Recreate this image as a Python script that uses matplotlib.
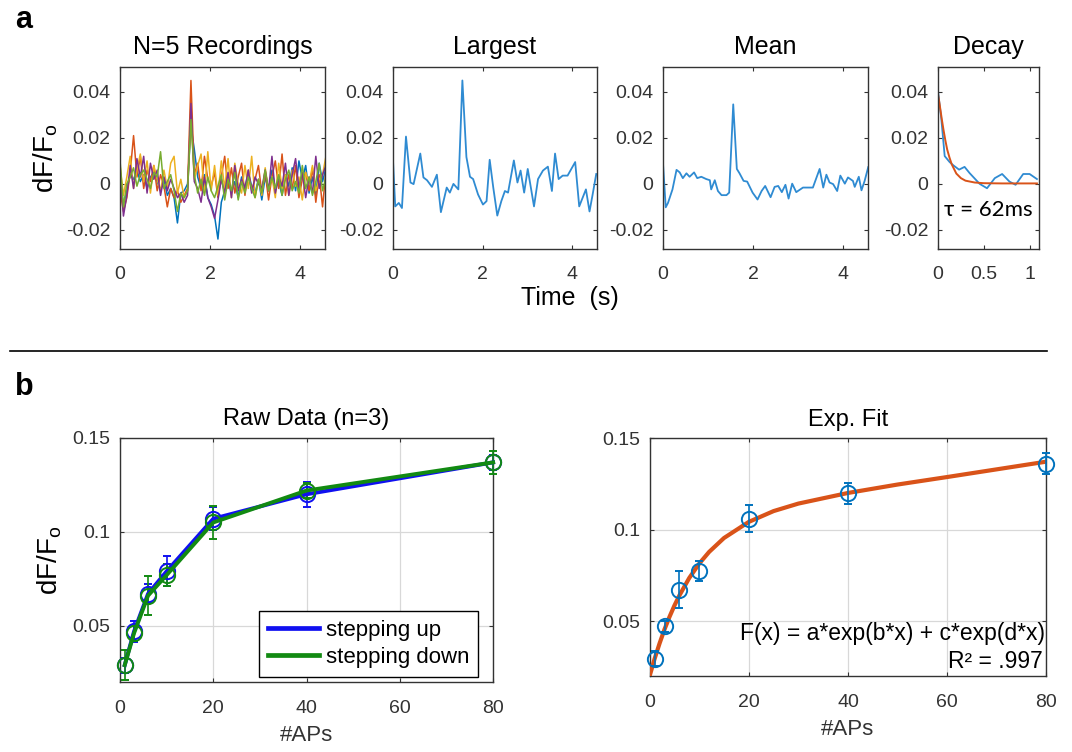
import numpy as np
import matplotlib
matplotlib.use('Agg')
import matplotlib.pyplot as plt
from matplotlib.lines import Line2D

plt.rcParams['font.family'] = ['Liberation Sans', 'DejaVu Sans']
plt.rcParams['mathtext.fontset'] = 'custom'
plt.rcParams['mathtext.rm'] = 'Liberation Sans'
plt.rcParams['mathtext.it'] = 'Liberation Sans:italic'

# ---------------- panel a : datos ----------------
# tiempos comunes de las 5 grabaciones (s)
t_rec = [0.0, 0.075, 0.15, 0.225, 0.3, 0.375, 0.45, 0.525, 0.6, 0.675, 0.75, 0.825,
         0.9, 0.975, 1.05, 1.125, 1.2, 1.275, 1.35, 1.425, 1.5, 1.575, 1.65, 1.725,
         1.8, 1.875, 1.95, 2.025, 2.1, 2.175, 2.25, 2.325, 2.4, 2.475, 2.55, 2.625,
         2.7, 2.775, 2.85, 2.925, 3.0, 3.075, 3.15, 3.225, 3.3, 3.375, 3.45, 3.525,
         3.6, 3.675, 3.75, 3.825, 3.9, 3.975, 4.05, 4.125, 4.2, 4.275, 4.35, 4.425,
         4.5, 4.575]

# dF/F de cada grabacion (x 1e-3)
rec_blue = [2, -9, -3, 4, 2, 6, 1, 4, -2, 3, 5, 1, -3, 2, -5, -2, -6, -17, -4, -3, 0, 25,
            15, 3, -2, 4, -6, -9, -14, -24, -8, -3, 2, -4, 1, -6, 3, -2, 5, -1, -4, 2, -7,
            3, -3, 6, -2, 1, -5, 4, -1, 7, -3, 10, 2, 8, -4, 3, -5, 9, 1, 7]
rec_orange = [-3, -12, -6, 5, 21, 3, 12, -2, 6, 1, 8, -3, 4, -1, -10, -2, -6, -3, -8, -5,
              -2, 45, 4, 9, -3, 12, 2, -1, 5, -6, 3, 12, -2, 7, -4, 3, 9, -5, 6, -3, 2,
              8, -4, 5, -7, 3, 10, -2, 13, -5, 4, -2, 8, -6, 2, 5, -3, 7, -8, 4, -10, 6]
rec_yellow = [8, -5, 3, 12, -2, 6, 13, 1, 10, -4, 8, 2, -3, 6, -2, 9, 12, -4, 2, -6, -3, 30,
              2, 8, 13, -4, 14, -3, 8, -5, 10, -2, 11, -6, 9, 0, -4, 8, -2, 12, -6, 2, -5,
              7, -3, 3, -6, 9, -2, 4, -5, 6, -1, 3, -7, 5, 0, 8, -3, 2, 4, 12]
rec_purple = [6, -14, -5, 8, -2, 11, 3, 12, -4, 9, 2, 6, -5, 3, -3, 2, -2, -6, -4, -8, -5,
              35, 1, -2, -8, 3, -6, -10, -15, -7, 2, -4, 5, -6, 8, -3, 2, -2, 6, -4, 3, 0,
              -2, 6, -3, 12, -4, 3, -1, 9, -5, 4, 11, -2, 5, -6, 3, -4, 12, -2, 4, 8]
rec_green = [10, -10, 0, 3, 7, -1, 4, 6, 2, -2, 5, 3, 14, -2, 1, 4, -3, -12, -4, -6, -3, 28,
             4, -4, 2, -5, 3, -3, -6, -1, 4, -7, 2, -3, 5, -7, 1, -4, 3, -2, -6, 2, -4, 6,
             -3, 3, -2, 4, -5, 2, 6, -3, 1, -4, 8, -2, 3, -5, 1, 9, -3, 3]

# traza mayor
t_largest = [0.0, 0.05, 0.13, 0.2, 0.29, 0.39, 0.46, 0.61, 0.68, 0.76, 0.87, 0.98, 1.07,
             1.2, 1.27, 1.35, 1.46, 1.55, 1.64, 1.72, 1.79, 1.9, 2.01, 2.09, 2.16, 2.24,
             2.33, 2.42, 2.5, 2.57, 2.7, 2.78, 2.85, 2.93, 3.01, 3.15, 3.24, 3.35, 3.46,
             3.55, 3.62, 3.7, 3.79, 3.9, 4.07, 4.16, 4.31, 4.39, 4.46, 4.54]
v_largest = [0.0102, -0.0098, -0.0083, -0.0105, 0.0206, 0.0006, -0.0001, 0.0132, 0.0028,
             0.0016, -0.0013, 0.004, -0.0123, -0.0016, -0.0038, 0.0, -0.0024, 0.045,
             0.0117, 0.0031, 0.0021, -0.0046, -0.009, -0.0075, 0.0105, -0.0016, -0.0138,
             -0.0075, -0.0031, -0.0038, 0.0102, 0.0006, 0.0058, -0.0038, 0.0065, -0.0098,
             0.0021, 0.0058, 0.0075, -0.0031, 0.0132, 0.0021, 0.0036, 0.0036, 0.0095,
             -0.0098, -0.0024, -0.012, -0.0046, 0.0043]

# traza media
t_mean = [0.0, 0.06, 0.11, 0.21, 0.3, 0.37, 0.44, 0.52, 0.59, 0.69, 0.76, 0.85, 0.96,
          1.04, 1.07, 1.15, 1.22, 1.3, 1.41, 1.47, 1.56, 1.64, 1.7, 1.79, 1.87, 1.99,
          2.1, 2.19, 2.27, 2.39, 2.48, 2.56, 2.64, 2.72, 2.79, 2.87, 2.96, 3.11, 3.22,
          3.33, 3.48, 3.56, 3.63, 3.7, 3.78, 3.87, 3.94, 4.04, 4.11, 4.22, 4.26, 4.35,
          4.41, 4.48, 4.56]
v_mean = [0.0087, -0.0102, -0.0083, -0.0024, 0.0061, 0.005, 0.0025, 0.0046, 0.0031,
          0.005, 0.0025, 0.0031, 0.0021, 0.0016, -0.0024, 0.0016, -0.0031, -0.0049,
          -0.0049, -0.0038, 0.0346, 0.0065, 0.0046, 0.0013, 0.001, -0.0038, -0.0068,
          -0.0031, -0.0009, -0.0058, -0.0013, -0.0009, -0.0036, -0.0004, -0.0064,
          0.0001, -0.0036, -0.0016, -0.0016, -0.0016, 0.0065, -0.0016, 0.004, 0.0006,
          -0.0001, -0.0031, 0.0036, 0.0001, 0.0028, 0.0013, -0.0013, 0.0031, -0.0028,
          0.0013, 0.0073]

# decaimiento + ajuste exponencial
t_decay = [0.0, 0.036, 0.073, 0.127, 0.17, 0.23, 0.29, 0.345, 0.455, 0.535, 0.62, 0.7,
           0.78, 0.847, 0.93, 1.0, 1.08]
v_decay = [0.0403, 0.0284, 0.0121, 0.0095, 0.008, 0.0062, 0.0074, 0.0047, 0.0, -0.0019,
           0.0025, 0.0043, 0.001, -0.0004, 0.0043, 0.0043, 0.0021]
t_decay_fit = [0.0, 0.02, 0.04, 0.06, 0.08, 0.1, 0.125, 0.15, 0.2, 0.25, 0.3, 0.4, 0.5,
               0.7, 0.9, 1.08]
v_decay_fit = [0.039, 0.034, 0.0285, 0.0235, 0.019, 0.015, 0.0115, 0.0085, 0.0045, 0.0025,
               0.0014, 0.0006, 0.0003, 0.0002, 0.0002, 0.0002]

# ---------------- panel b : datos ----------------
n_aps = [1, 3, 6, 10, 20, 40, 80]
up_mean = [0.029, 0.047, 0.067, 0.079, 0.107, 0.120, 0.137]
up_err = [0.004, 0.0055, 0.005, 0.008, 0.006, 0.0066, 0.004]
down_mean = [0.029, 0.046, 0.066, 0.077, 0.105, 0.122, 0.137]
down_err = [0.008, 0.004, 0.0105, 0.006, 0.009, 0.004, 0.006]

fit_mean = [0.0295, 0.0473, 0.0672, 0.0774, 0.1059, 0.1199, 0.136]
fit_err = [0.004, 0.003, 0.0103, 0.0054, 0.0073, 0.0057, 0.0057]
x_curve = [0, 1, 2, 3, 4, 5, 6, 8, 10, 12, 15, 20, 25, 30, 40, 50, 60, 70, 80]
y_curve = [0.020, 0.0294, 0.0378, 0.0455, 0.0523, 0.0585, 0.0640, 0.0736, 0.0814,
           0.0878, 0.0954, 0.1042, 0.1101, 0.1142, 0.1200, 0.1246, 0.1287, 0.1329,
           0.1371]

# colores estilo MATLAB
C_BLUE = '#0072BD'
C_BLUE_LIGHT = '#2f8bd2'
C_ORANGE = '#D95319'
C_YELLOW = '#EDB120'
C_PURPLE = '#7E2F8E'
C_GREEN = '#77AC30'
AX_COL = '#333333'


def estilo(ax, fs=14):
    for s in ax.spines.values():
        s.set_color(AX_COL)
        s.set_linewidth(1.0)
    ax.tick_params(direction='in', length=3, width=0.8, colors=AX_COL,
                   labelsize=fs, top=True, right=True, labeltop=False, labelright=False)
    ax.tick_params(axis='x', pad=12)
    ax.tick_params(axis='y', pad=7)


fig = plt.figure(figsize=(10.72, 7.52), dpi=100)

# --- panel a ---
pos_a = [(0.112, 0.669, 0.191, 0.242), (0.3666, 0.669, 0.190, 0.242),
         (0.6185, 0.669, 0.191, 0.242), (0.875, 0.669, 0.094, 0.242)]
axs_a = [fig.add_axes(p) for p in pos_a]

ax = axs_a[0]
tr = np.array(t_rec)
for vals, c in zip([rec_blue, rec_orange, rec_yellow, rec_purple, rec_green],
                   [C_BLUE, C_ORANGE, C_YELLOW, C_PURPLE, C_GREEN]):
    ax.plot(tr, np.array(vals) * 1e-3, color=c, lw=1.1)
ax.set_title('N=5 Recordings', fontsize=18, pad=9)
ax.set_ylabel('dF/F$_{\\rm o}$', fontsize=20, labelpad=4)

axs_a[1].plot(t_largest, v_largest, color=C_BLUE_LIGHT, lw=1.3)
axs_a[1].set_title('Largest', fontsize=18, pad=9)
axs_a[2].plot(t_mean, v_mean, color=C_BLUE_LIGHT, lw=1.3)
axs_a[2].set_title('Mean', fontsize=18, pad=9)

for ax in axs_a[:3]:
    ax.set_xlim(0, 4.55)
    ax.set_xticks([0, 2, 4])
ax = axs_a[3]
ax.plot(t_decay, v_decay, color=C_BLUE_LIGHT, lw=1.3)
ax.plot(t_decay_fit, v_decay_fit, color=C_ORANGE, lw=1.4)
ax.set_title('Decay', fontsize=18, pad=9)
ax.set_xlim(0, 1.1)
ax.set_xticks([0, 0.5, 1])
ax.set_xticklabels(['0', '0.5', '1'])
ax.text(0.55, -0.0112, '\u03c4 = 62ms', ha='center', va='center', fontsize=16,
        family=['Lato', 'Open Sans', 'DejaVu Sans'], color='black')

for ax in axs_a:
    ax.set_ylim(-0.0283, 0.0509)
    ax.set_yticks([-0.02, 0, 0.02, 0.04])
    ax.set_yticklabels(['-0.02', '0', '0.02', '0.04'])
    estilo(ax)

fig.text(570 / 1072, 1 - 298 / 752, 'Time  (s)', ha='center', va='center', fontsize=18)

# separador
fig.add_artist(Line2D([10 / 1072, 1047 / 1072], [1 - 351 / 752, 1 - 351 / 752],
                      transform=fig.transFigure, color='black', lw=1.2))

fig.text(15 / 1072, 1 - 28 / 752, 'a', fontsize=22, fontweight='bold', va='baseline')
fig.text(15 / 1072, 1 - 395 / 752, 'b', fontsize=22, fontweight='bold', va='baseline')

# --- panel b ---
axb1 = fig.add_axes((0.112, 0.0931, 0.348, 0.3245))
axb2 = fig.add_axes((0.606, 0.101, 0.370, 0.3165))

for m, e, c in [(up_mean, up_err, '#1010F0'), (down_mean, down_err, '#128A12')]:
    axb1.errorbar(n_aps, m, yerr=e, fmt='-o', color=c, mfc='none', ms=11, mew=1.4,
                  lw=2.8, elinewidth=1.2, capsize=3, capthick=1.2, clip_on=False,
                  zorder=3)
axb1.set_title('Raw Data (n=3)', fontsize=17, pad=9)
axb1.set_ylabel('dF/F$_{\\rm o}$', fontsize=20, labelpad=6)
proxies = [Line2D([], [], color='#1010F0', lw=3.4), Line2D([], [], color='#128A12', lw=3.4)]
leg = axb1.legend(proxies, ['stepping up', 'stepping down'], loc='lower right',
                  bbox_to_anchor=(0.96, 0.02), borderaxespad=0, fontsize=16,
                  fancybox=False, framealpha=1, edgecolor='black', handlelength=2.3,
                  handletextpad=0.3, borderpad=0.4, labelspacing=0.3)
leg.get_frame().set_linewidth(1.0)

axb2.plot(x_curve, y_curve, color=C_ORANGE, lw=3.0, zorder=3, solid_capstyle='round')
axb2.errorbar(n_aps, fit_mean, yerr=fit_err, fmt='o', color=C_BLUE, mfc='none', ms=11,
              mew=1.4, elinewidth=1.2, capsize=3, capthick=1.2, clip_on=False, zorder=4)
axb2.set_title('Exp. Fit', fontsize=17, pad=9)
axb2.text(0.998, 0.18, 'F(x) = a*exp(b*x) + c*exp(d*x)', transform=axb2.transAxes,
          ha='right', va='center', fontsize=16.5)
axb2.text(0.99, 0.06, 'R\u00b2 = .997', transform=axb2.transAxes, ha='right',
          va='center', fontsize=16.5)

for ax in (axb1, axb2):
    ax.set_xlim(0, 80)
    ax.set_ylim(0.02, 0.15)
    ax.set_xticks([0, 20, 40, 60, 80])
    ax.set_yticks([0.05, 0.1, 0.15])
    ax.set_yticklabels(['0.05', '0.1', '0.15'])
    ax.set_xlabel('#APs', fontsize=16, labelpad=6, color=AX_COL)
    ax.grid(True, color='#d8d8d8', lw=0.9)
    ax.set_axisbelow(True)
    estilo(ax)
    ax.tick_params(axis='x', pad=13)

fig.savefig('out.png', dpi=100)
